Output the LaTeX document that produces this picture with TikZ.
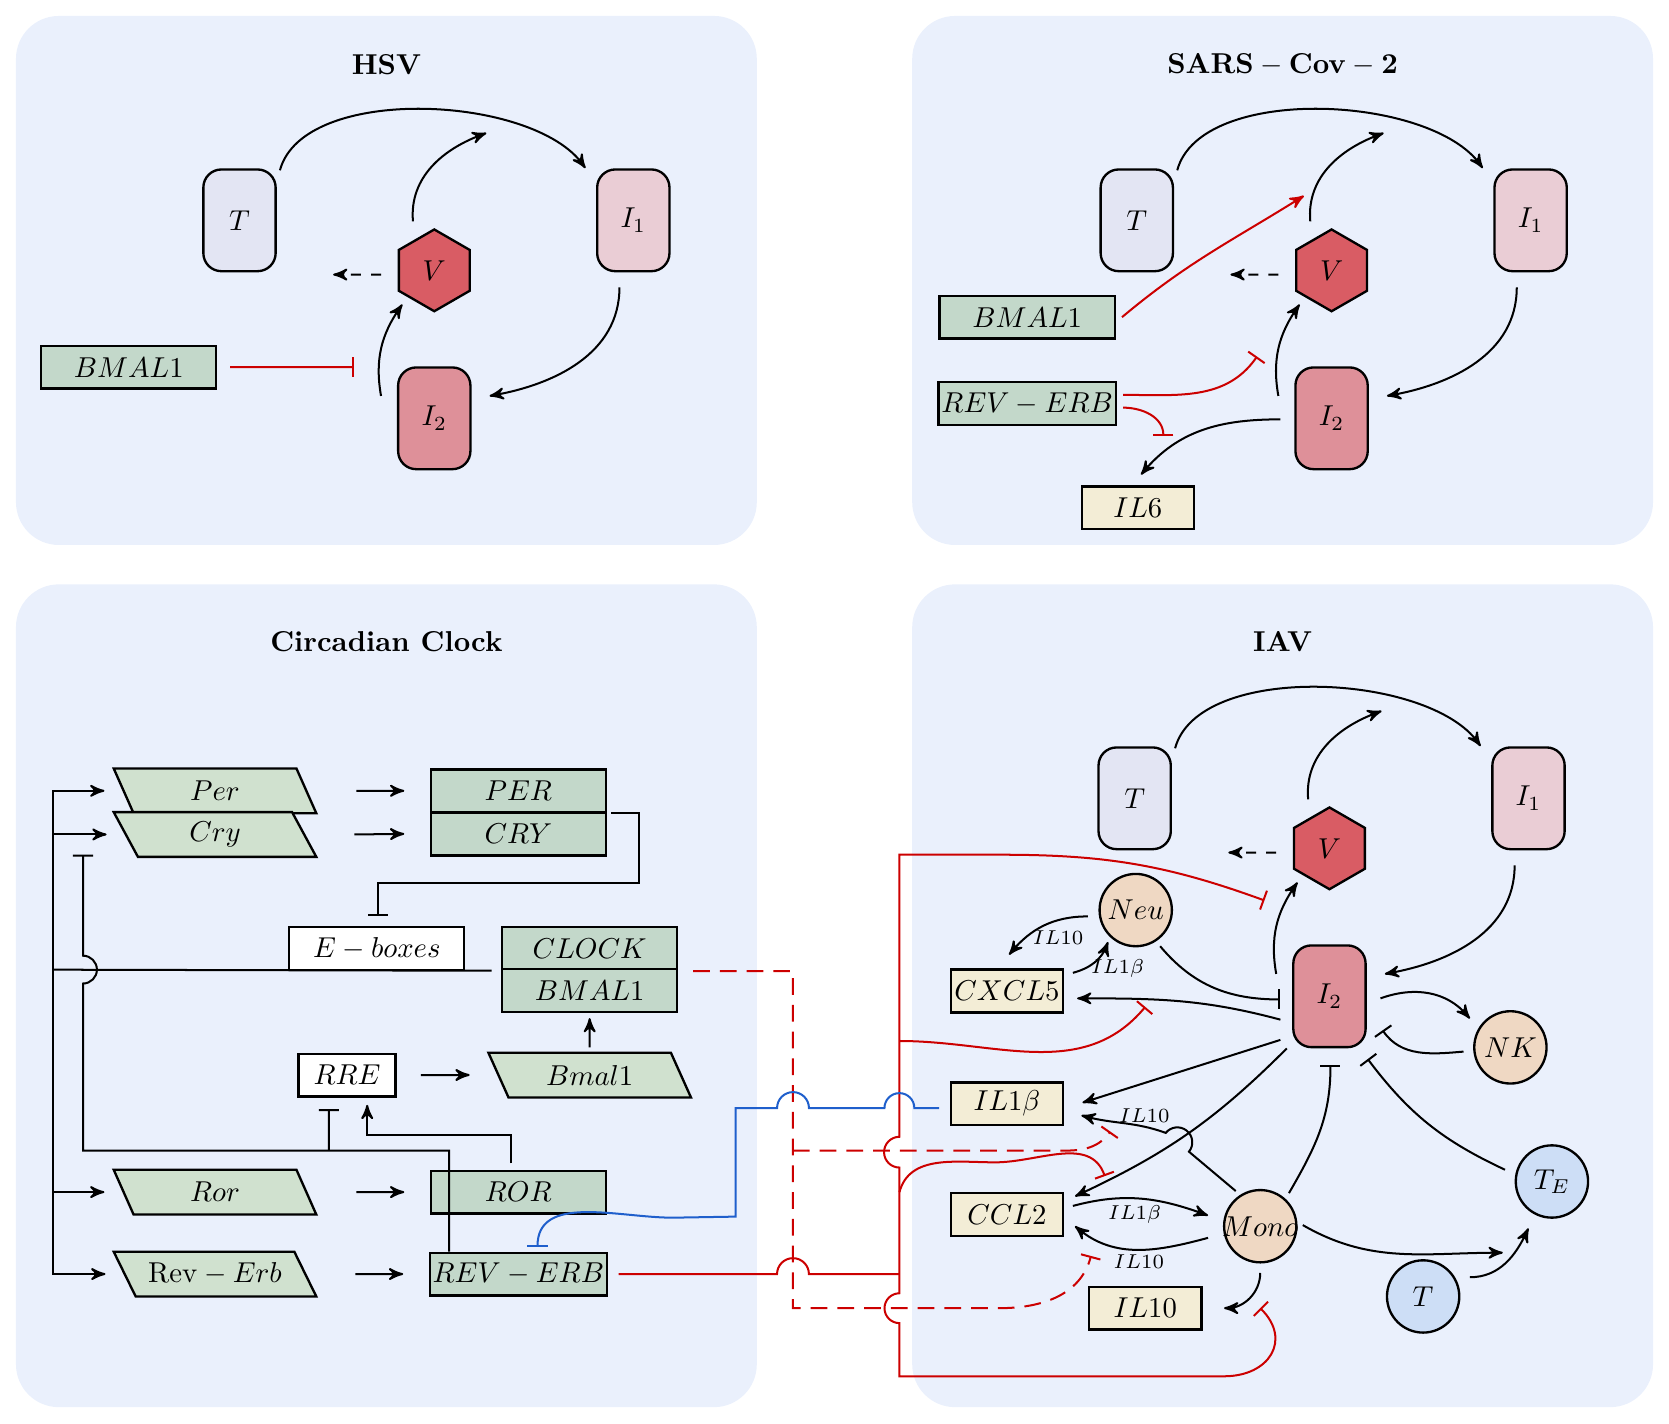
\documentclass[tikz,border=0pt]{standalone}
\usepackage{xcolor}
\usetikzlibrary{shapes,calc,arrows,arrows.meta,positioning}
\definecolor{cpanel}{HTML}{EAF0FC}
\definecolor{cT}{HTML}{E3E5F3}
\definecolor{cIone}{HTML}{EACDD5}
\definecolor{cItwo}{HTML}{DE9099}
\definecolor{cV}{HTML}{D95C64}
\definecolor{cprot}{HTML}{C3D8CA}
\definecolor{cmrna}{HTML}{D0E1CF}
\definecolor{ccyto}{HTML}{F3EDD6}
\definecolor{cimm}{HTML}{EFD8C3}
\definecolor{ctc}{HTML}{CDDEF6}
\definecolor{cred}{HTML}{CC0000}
\definecolor{cblue}{HTML}{1F5FCC}
\tikzstyle{l1}=[line width=0.6pt]
\tikzstyle{inh}=[-{Bar[width=6pt]}]
\tikzstyle{redl}=[l1, color=cred]
\tikzstyle{redd}=[l1, color=cred, dash pattern=on 5pt off 3pt]
\tikzstyle{bluel}=[l1, color=cblue]
\tikzstyle{panelbox}=[fill=cpanel, rounded corners=0.45cm]
\tikzstyle{cellbox}=[rectangle, rounded corners=0.19cm, draw=black, line width=0.7pt, minimum width=0.884cm, minimum height=1.244cm]
\tikzstyle{tcell}=[cellbox, fill=cT]
\tikzstyle{icellA}=[cellbox, fill=cIone]
\tikzstyle{icellB}=[cellbox, fill=cItwo]
\tikzstyle{virus}=[regular polygon, regular polygon sides=6, shape border rotate=30, draw=black, line width=0.7pt, fill=cV, minimum size=1.0cm, inner sep=0pt]
\tikzstyle{prot}=[rectangle, draw=black, line width=0.7pt, fill=cprot, minimum width=2.14cm, minimum height=0.523cm, inner sep=1pt]
\tikzstyle{gene}=[rectangle, draw=black, line width=0.7pt, fill=white, minimum width=2.14cm, minimum height=0.523cm, inner sep=1pt]
\tikzstyle{mrna}=[trapezium, trapezium left angle=128, trapezium right angle=52, trapezium stretches body, draw=black, line width=0.7pt, fill=cmrna, minimum width=2.477cm, minimum height=0.547cm, inner sep=1pt]
\tikzstyle{cyto}=[rectangle, draw=black, line width=0.7pt, fill=ccyto, minimum width=1.372cm, minimum height=0.523cm, inner sep=1pt]
\tikzstyle{immune}=[circle, draw=black, line width=0.7pt, fill=cimm, minimum size=0.884cm, inner sep=0pt]
\tikzstyle{tcellc}=[immune, fill=ctc]
\tikzstyle{lab}=[font=\scriptsize, inner sep=1pt]

\begin{document}
\begin{tikzpicture}[x=0.013023cm, y=0.013023cm, scale=0.86, transform shape, >=stealth']
    \useasboundingbox (0,0) rectangle (1568,-1337);

    \fill[panelbox] (15,-15) rectangle (711,-512);
    \fill[panelbox] (857,-15) rectangle (1553,-512);
    \fill[panelbox] (15,-549) rectangle (711,-1322);
    \fill[panelbox] (857,-549) rectangle (1553,-1322);

    \node (tHSV) at (363,-61) {\textbf{HSV}};
    \node (tSARS) at (1205,-61) {$\mathbf{SARS-Cov-2}$};
    \node (tCC) at (363,-603) {\textbf{Circadian Clock}};
    \node (tIAV) at (1205,-603) {\textbf{IAV}};

    % HSV
    \begin{scope}[shift={(0,0)}]
    \node (T) [tcell] at (225,-207) {$T$};
    \node (I1) [icellA] at (595,-207) {$I_1$};
    \node (V) [virus] at (408,-254) {$V$};
    \node (I2) [icellB] at (408,-393) {$I_2$};
    \coordinate (Vup) at ($(V)+(49,129)$);
    \coordinate (Vleft) at ($(V)+(-95,-4)$);
    \draw[l1, ->] ($(T)+(38,47)$) to[out=75, in=125, looseness=0.75] ($(I1)+(-45,49)$);
    \draw[l1, ->] ($(V)+(-20,46)$) to[out=95, in=200] (Vup);
    \draw[l1, ->, dashed] ($(V)+(-50,-4)$) -- (Vleft);
    \draw[l1, ->] ($(I1)+(-13,-63)$) to[out=-90, in=10] ($(I2)+(52,21)$);
    \draw[l1, ->] ($(I2)+(-50,21)$) to[out=100, in=235] ($(V)+(-30,-32)$);
    \end{scope}
    \node (bmalH) [prot] at (121,-345) {$BMAL1$};
    \draw[redl, inh] ($(bmalH.east)+(12,0)$) -- ($(I2)+(-75,48)$);

    % SARS-CoV-2
    \begin{scope}[shift={(843,0)}]
    \node (T) [tcell] at (225,-207) {$T$};
    \node (I1) [icellA] at (595,-207) {$I_1$};
    \node (V) [virus] at (408,-254) {$V$};
    \node (I2) [icellB] at (408,-393) {$I_2$};
    \coordinate (Vup) at ($(V)+(49,129)$);
    \coordinate (Vleft) at ($(V)+(-95,-4)$);
    \draw[l1, ->] ($(T)+(38,47)$) to[out=75, in=125, looseness=0.75] ($(I1)+(-45,49)$);
    \draw[l1, ->] ($(V)+(-20,46)$) to[out=95, in=200] (Vup);
    \draw[l1, ->, dashed] ($(V)+(-50,-4)$) -- (Vleft);
    \draw[l1, ->] ($(I1)+(-13,-63)$) to[out=-90, in=10] ($(I2)+(52,21)$);
    \draw[l1, ->] ($(I2)+(-50,21)$) to[out=100, in=235] ($(V)+(-30,-32)$);
    \end{scope}
    \node (bmalS) [prot] at (965,-298) {$BMAL1$};
    \node (revS) [prot] at (965,-379) {$REV-ERB$};
    \node (il6) [cyto] at (1069,-477) {$IL6$};
    \draw[redl, ->] ($(bmalS.east)+(6,0)$) to[out=40, in=212] ($(V)+(-26,70)$);
    \draw[redl, inh] ($(revS.east)+(6,8)$) to[out=0, in=235] ($(V)+(-70,-81)$);
    \draw[redl, inh] ($(revS.east)+(6,-4)$) to[out=0, in=90] ($(il6)+(24,67)$);
    \draw[l1, ->] ($(I2)+(-48,-1)$) to[out=180, in=50] ($(il6.north)+(3,10)$);

    % Circadian clock
    \node (per) [mrna] at (202,-743) {$Per$};
    \node (cry) [mrna] at (202,-784) {$Cry$};
    \node (PERp) [prot] at (487,-743) {$PER$};
    \node (CRYp) [prot] at (487,-783.5) {$CRY$};
    \node (eb) [gene] at (354,-891) {$E-boxes$};
    \node (CLOCKp) [prot] at (554,-891) {$CLOCK$};
    \node (BMALp) [prot] at (554,-930.5) {$BMAL1$};
    \node (rre) [gene, minimum width=1.186cm] at (326,-1010) {$RRE$};
    \node (bmalm) [mrna] at (554,-1010) {$Bmal1$};
    \node (ror) [mrna] at (202,-1120) {$Ror$};
    \node (RORp) [prot] at (487,-1120) {$ROR$};
    \node (revm) [mrna] at (202,-1197) {$\mathrm{Rev}-Erb$};
    \node (REVp) [prot] at (487,-1197) {$REV-ERB$};
    \coordinate (rrej) at (309,-1081);
    \coordinate (perinh) at (78,-803);

    \draw[l1] ($(CLOCKp.south west)+(-9,0)$) -- (50,-911) coordinate (spine);
    \foreach \n in {per,cry,ror,revm}
        \draw[l1, ->] (spine) |- ($(\n.west)+(-17,0)$);
    \foreach \a/\b in {per/PERp, cry/CRYp, ror/RORp, revm/REVp}
        \draw[l1, ->] ($(\a.east)+(46,0)$) -- ($(\b.west)+(-24,0)$);
    \draw[l1, inh] ($(PERp.south east)+(4,0)$) -- ++(26,0) |- ($(eb.north)+(1,40)$) -- ($(eb.north)+(1,9)$);
    \draw[l1, inh] ($(REVp.north west)+(19,0)$) |- (rrej) -- (78,-1081) -- (78,-924)
        arc[start angle=-90, end angle=90, radius=0.17cm] -- (perinh);
    \draw[l1, inh] (rrej) -- ($(rre.south)+(-17,-11)$);
    \draw[l1, ->] ($(RORp.north)+(-7,6)$) -- ++(0,27) -| ($(rre.south)+(19,-7)$);
    \draw[l1, ->] ($(rre.east)+(23,0)$) -- ($(bmalm.west)+(-26,0)$);
    \draw[l1, ->] ($(bmalm.north)+(0,4)$) -- ($(BMALp.south)+(0,-5)$);

    % IAV
    \begin{scope}[shift={(841,-543)}]
    \node (T) [tcell] at (225,-207) {$T$};
    \node (I1) [icellA] at (595,-207) {$I_1$};
    \node (V) [virus] at (408,-254) {$V$};
    \node (I2) [icellB] at (408,-393) {$I_2$};
    \coordinate (Vup) at ($(V)+(49,129)$);
    \coordinate (Vleft) at ($(V)+(-95,-4)$);
    \draw[l1, ->] ($(T)+(38,47)$) to[out=75, in=125, looseness=0.75] ($(I1)+(-45,49)$);
    \draw[l1, ->] ($(V)+(-20,46)$) to[out=95, in=200] (Vup);
    \draw[l1, ->, dashed] ($(V)+(-50,-4)$) -- (Vleft);
    \draw[l1, ->] ($(I1)+(-13,-63)$) to[out=-90, in=10] ($(I2)+(52,21)$);
    \draw[l1, ->] ($(I2)+(-50,21)$) to[out=100, in=235] ($(V)+(-30,-32)$);
    \end{scope}
    \node (neu) [immune] at (1067,-855) {$Neu$};
    \node (cxcl) [cyto] at (946,-931) {$CXCL5$};
    \node (il1b) [cyto] at (946,-1037) {$IL1\beta$};
    \node (ccl) [cyto] at (946,-1141) {$CCL2$};
    \node (mono) [immune] at (1184,-1152) {\makebox[0pt]{$Mono$}};
    \node (il10) [cyto] at (1076,-1229) {$IL10$};
    \node (nk) [immune] at (1419,-984) {$NK$};
    \node (te) [tcellc] at (1458,-1110) {$T_E$};
    \node (tc) [tcellc] at (1337,-1218) {$T$};
    \coordinate (teact) at ($(te)+(-46,-67)$);

    \draw[l1, ->] ($(neu)+(-45,-6)$) to[out=180, in=50] ($(cxcl)+(2,34)$);
    \node[lab] (lbA) at (994,-881) {$IL10$};
    \draw[l1, ->] ($(cxcl)+(62,17)$) to[out=15, in=250] ($(neu)+(-26,-30)$);
    \node[lab] (lbB) at (1050,-910) {$IL1\beta$};
    \draw[l1, inh] ($(neu)+(23,-34)$) to[out=-50, in=180] ($(I2)+(-46,-3)$);
    \draw[l1, ->] ($(I2)+(-46,-22)$) to[out=165, in=0] ($(cxcl)+(66,-7)$);
    \draw[l1, ->] ($(I2)+(-46,-41)$) -- ($(il1b)+(71,1)$);
    \draw[l1, ->] ($(I2)+(-40,-49)$) to[out=-135, in=25] ($(ccl)+(64,17)$);
    \draw[l1, ->] ($(mono)+(-23,33)$) -- (1117,-1082) arc[start angle=-39, end angle=141, radius=0.1826cm]
        to[out=160, in=-15] ($(il1b)+(70,-11)$);
    \node[lab] (lbC) at (1075,-1048) {$IL10$};
    \draw[l1, ->] ($(ccl)+(62,8)$) to[out=15, in=160] ($(mono)+(-49,10)$);
    \node[lab] (lbD) at (1066,-1141) {$IL1\beta$};
    \draw[l1, ->] ($(mono)+(-49,-11)$) to[out=195, in=-40] ($(ccl)+(64,-11)$);
    \node[lab] (lbE) at (1070,-1185) {$IL10$};
    \draw[l1, ->] ($(mono)+(0,-44)$) to[out=-90, in=0] ($(il10)+(74,0)$);
    \draw[l1, inh] ($(mono)+(27,31)$) to[out=60, in=-90] ($(I2)+(1,-65)$);
    \draw[l1, inh] ($(te)+(-44,11)$) to[out=155, in=-53] ($(I2)+(36,-59)$);
    \draw[l1, ->] ($(I2)+(48,-2)$) to[out=20, in=130] ($(nk)+(-38,27)$);
    \draw[l1, inh] ($(nk)+(-44,-4)$) to[out=185, in=-55] ($(I2)+(50,-32)$);
    \draw[l1, ->] ($(mono)+(40,1)$) to[out=-30, in=180] (teact);
    \draw[l1, ->] ($(tc)+(44,18)$) to[out=0, in=245] ($(te)+(-22,-44)$);

    % clock -> IAV
    \draw[redl, {Bar[width=6pt]}-{Bar[width=6pt]}] ($(V)+(-61,-49)$) to[out=160, in=0] (940,-803) -- (845,-803) -- (845,-1068)
        arc[start angle=90, end angle=270, radius=0.188cm] -- (845,-1215)
        arc[start angle=90, end angle=270, radius=0.1826cm] -- (845,-1293) -- (1150,-1293)
        to[out=0, in=-45, looseness=1.5] ($(il10)+(108,0)$);
    \draw[redl, inh] (845,-978) to[out=0, in=230] ($(cxcl)+(130,-15)$);
    \draw[redl, inh] (845,-1120) to[out=75, in=180] (935,-1092) to[out=0, in=110] ($(ccl)+(92,36)$);
    \draw[redl] ($(REVp.east)+(10,0)$) -- (730,-1197) arc[start angle=180, end angle=0, radius=0.195cm] -- (845,-1197);
    \draw[redd, inh] ($(BMALp.north east)+(14,-3)$) -| (745,-1229) -- (939,-1229) to[out=0, in=-105] ($(ccl)+(79,-39)$);
    \draw[redd, inh] (745,-1081) -- (1000,-1081) to[out=0, in=235] ($(il1b)+(97,-26)$);
    \draw[bluel, inh] ($(il1b.west)+(-10,-4)$) -- (859,-1041) arc[start angle=0, end angle=180, radius=0.1826cm]
        -- (760,-1041) arc[start angle=0, end angle=180, radius=0.195cm] -- (691,-1041) -- (691,-1143)
        -- (632,-1144) to[out=180, in=90] ($(REVp.north)+(18,4)$);
\end{tikzpicture}
\end{document}
